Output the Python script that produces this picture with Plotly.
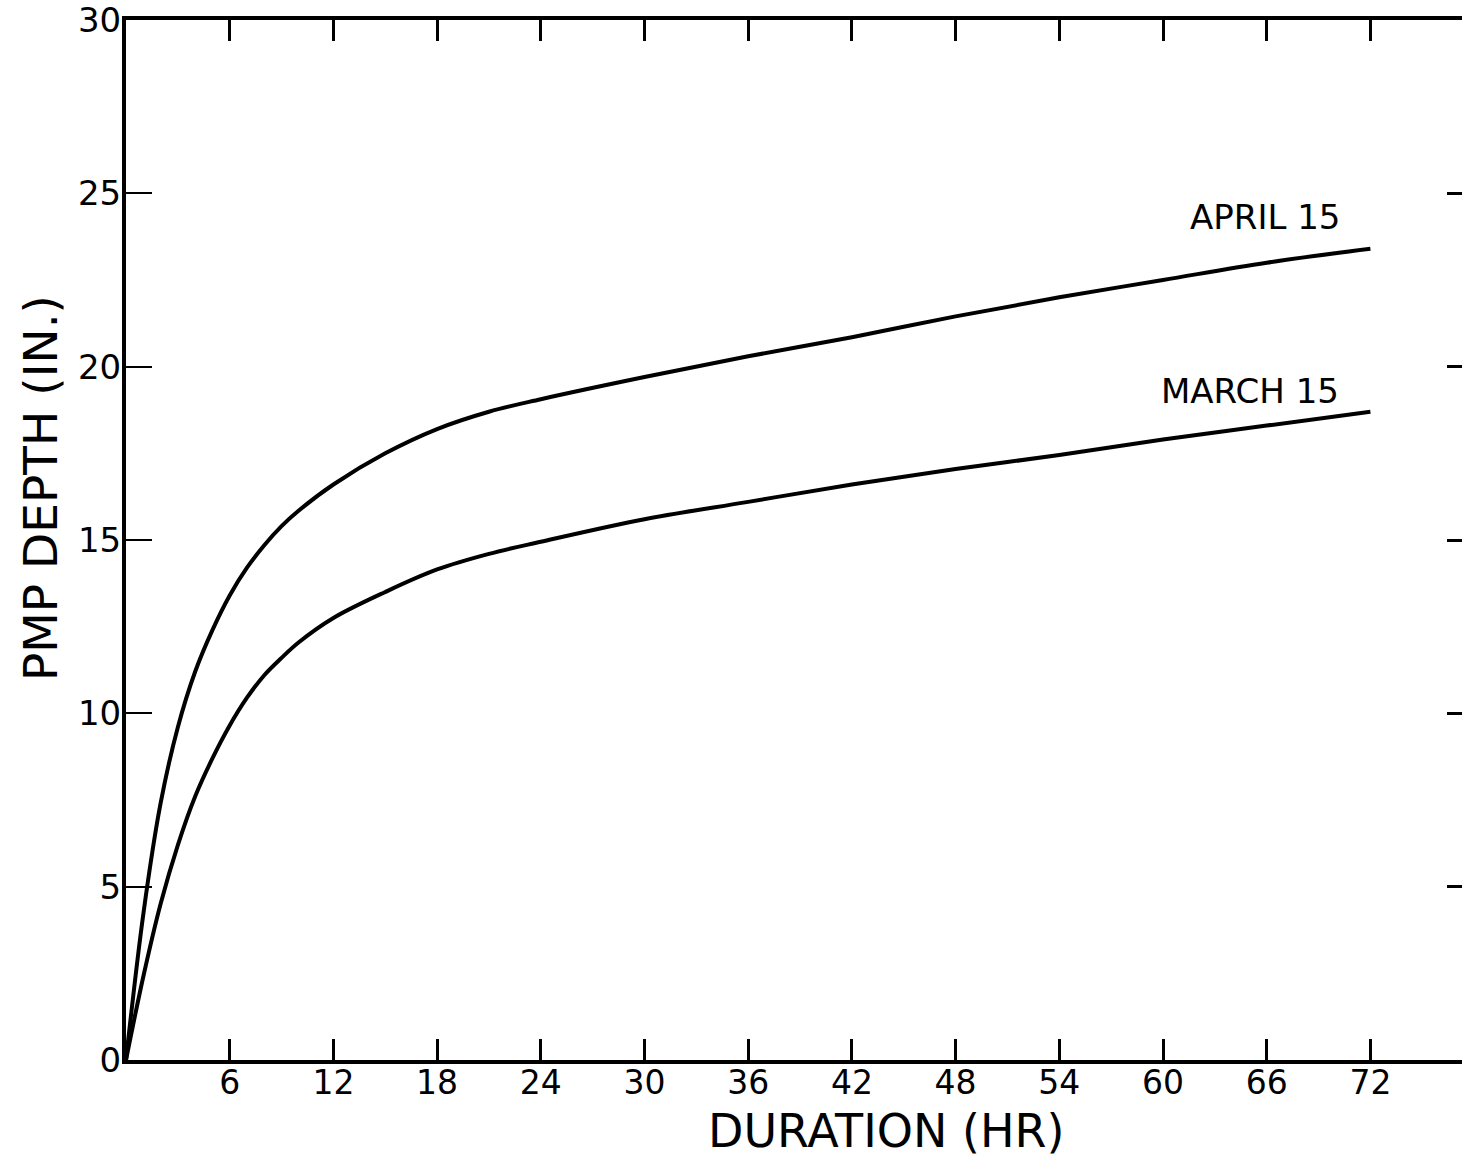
import plotly.graph_objects as go

# Data
duration = [0, 1, 2, 3, 4, 5, 6, 7, 8, 9, 10, 12, 15, 18, 21, 24, 30, 36, 42, 48, 54, 60, 66, 72]
april_15 = [0, 4.2, 7.4, 9.6, 11.2, 12.4, 13.4, 14.2, 14.85, 15.4, 15.85, 16.6, 17.5, 18.2,
            18.7, 19.06, 19.7, 20.3, 20.85, 21.45, 22.0, 22.5, 23.0, 23.4]
march_15 = [0, 2.4, 4.5, 6.2, 7.6, 8.7, 9.65, 10.45, 11.1, 11.6, 12.05, 12.75, 13.5, 14.15,
            14.6, 14.95, 15.6, 16.1, 16.6, 17.05, 17.45, 17.9, 18.3, 18.7]

x_ticks = [6, 12, 18, 24, 30, 36, 42, 48, 54, 60, 66, 72]
y_ticks = [0, 5, 10, 15, 20, 25, 30]
right_ticks = [5, 10, 15, 20, 25]

FONT = "DejaVu Sans"

fig = go.Figure()
fig.add_trace(go.Scatter(x=duration, y=april_15, mode="lines",
                         line=dict(color="black", width=4, shape="spline", smoothing=1.0),
                         showlegend=False))
fig.add_trace(go.Scatter(x=duration, y=march_15, mode="lines",
                         line=dict(color="black", width=4, shape="spline", smoothing=1.0),
                         showlegend=False))
# helper trace so the right-side tick axis is drawn
fig.add_trace(go.Scatter(x=[None], y=[None], yaxis="y2", showlegend=False, hoverinfo="skip"))

fig.update_layout(
    width=1462, height=1158,
    margin=dict(l=126, r=0, t=18, b=98),
    paper_bgcolor="white", plot_bgcolor="white",
    font=dict(family=FONT, color="black"),
    xaxis=dict(range=[0, 77.3], tickvals=x_ticks, ticktext=[str(v) for v in x_ticks],
               ticks="inside", ticklen=21, tickwidth=3, tickcolor="black",
               showline=True, linewidth=4, linecolor="black", mirror="ticks",
               showgrid=False, zeroline=False, tickfont=dict(size=33, family=FONT),
               ticklabelstandoff=-10),
    yaxis=dict(range=[0, 30], tickvals=y_ticks, ticktext=[str(v) for v in y_ticks],
               ticks="inside", ticklen=26, tickwidth=2, tickcolor="black",
               showline=True, linewidth=4, linecolor="black",
               showgrid=False, zeroline=False, tickfont=dict(size=34, family=FONT),
               ticklabelstandoff=-6, ticklabeloverflow="allow"),
    yaxis2=dict(range=[0, 30], overlaying="y", side="right", tickvals=right_ticks,
                ticks="inside", ticklen=15, tickwidth=3, tickcolor="black",
                showticklabels=False, showline=False, showgrid=False, zeroline=False),
    annotations=[
        dict(x=65.9, y=24.33, xref="x", yref="y", text="APRIL 15", showarrow=False,
             font=dict(size=34, family=FONT)),
        dict(x=65.05, y=19.29, xref="x", yref="y", text="MARCH 15", showarrow=False,
             font=dict(size=34, family=FONT)),
        dict(x=886, y=1158 - 1131, xref="paper", yref="paper", text="DURATION (HR)",
             showarrow=False, font=dict(size=46, family=FONT)),
        dict(x=40, y=1158 - 487, xref="paper", yref="paper", text="PMP DEPTH (IN.)",
             textangle=-90, showarrow=False, font=dict(size=47, family=FONT)),
    ],
)

# convert pixel positions of title annotations to paper coordinates
pw = 1462 - 126
ph = 1158 - 18 - 98
for a in fig.layout.annotations:
    if a.xref == "paper":
        a.x = (a.x - 126) / pw
        a.y = (a.y - 98) / ph
        a.xanchor = "center"
        a.yanchor = "middle"

fig.write_html("out.html", config={"displayModeBar": False},
               post_script="document.body.style.margin='0';document.body.style.overflow='hidden';")
